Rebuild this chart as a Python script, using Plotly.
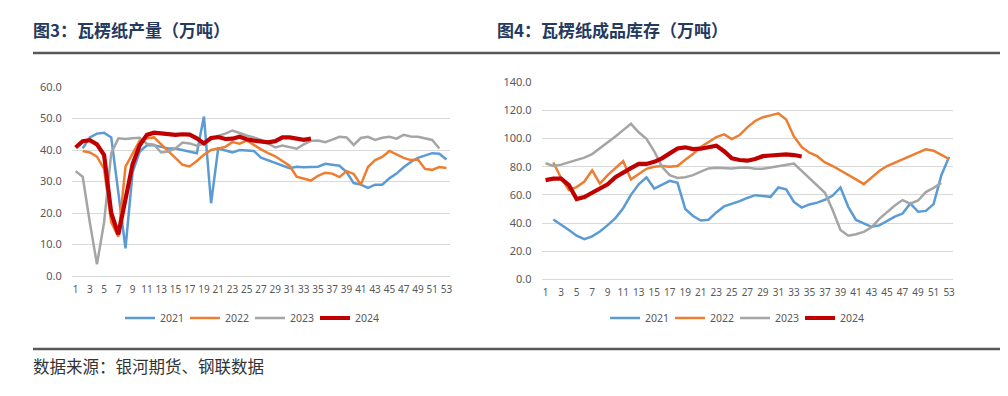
import plotly.graph_objects as go

weeks = list(range(1, 54))
years = ["2021", "2022", "2023", "2024"]
colors = {"2021": "#5B9BD5", "2022": "#ED7D31", "2023": "#A5A5A5", "2024": "#C00000"}
widths = {"2021": 2.5, "2022": 2.5, "2023": 2.5, "2024": 4.2}

# 图3 瓦楞纸产量（万吨）
prod_2021 = [None, 40.5, 44, 45.2, 45.5, 44, 26, 8.8, 33, 39.5, 41.5, 41.5, 41, 40.5, 40.5, 40, 39.5, 39,
             50.6, 23.1, 40.5, 39.8, 39.2, 40, 39.8, 39.7, 37.6, 36.8, 35.8, 35, 34.2, 34.7, 34.5, 34.6, 34.7,
             35.6, 35.3, 35, 33, 29.5, 29, 28, 29, 29, 31, 32.5, 34.5, 36.2, 37.5, 38.3, 39, 38.8, 37]
prod_2022 = [None, 39.7, 39.2, 37.9, 34, 17, 12.5, 34.7, 39, 43, 43.7, 44, 41.8, 39.8, 37.5, 35.3, 34.8, 36.5,
             38.5, 40, 40.5, 41, 42.5, 42, 43, 41.5, 40.2, 39, 38, 36.5, 35, 31.5, 31, 30.3, 31.8, 32.8, 32.5,
             31.4, 33.3, 32.4, 29, 34.6, 36.8, 37.8, 39.7, 38.5, 37.5, 36.8, 37, 34, 33.7, 34.6, 34.3]
prod_2023 = [33.3, 31.5, 17, 3.7, 17, 39, 43.7, 43.5, 43.7, 43.9, 42, 41.7, 39.2, 39.5, 40.5, 42.4, 42.1, 41.4,
             42, 43.5, 44.5, 45.2, 46.2, 45.3, 44.6, 44, 43.2, 42.1, 40.8, 41.4, 41, 40.4, 41.8, 42.9, 43, 42.5,
             43.3, 44.2, 44, 41.6, 43.8, 44.2, 43.2, 43.9, 44.2, 43.6, 44.8, 44.3, 44.2, 43.8, 43.2, 40.5, None]
prod_2024 = [40.8, 42.8, 43.1, 41.8, 38.4, 20, 13.2, 25, 35.5, 41.5, 44.8, 45.5, 45.2, 44.9, 44.8, 45, 44.9,
             43.7, 42.1, 43.8, 44.1, 43.5, 43.6, 44.2, 43.4, 43, 42.6, 42.4, 42.8, 44, 44, 43.6, 43.2, 43.6]

# 图4 瓦楞纸成品库存（万吨）
inv_2021 = [None, 42.5, 39, 35, 31, 28.5, 30.5, 34, 38.5, 43.5, 50.5, 60, 67.5, 72.5, 64.5, 67.5, 70, 68.6, 50,
            45, 41.8, 42.3, 47.5, 51.8, 53.5, 55.5, 57.8, 59.8, 59.2, 58.6, 65.3, 64, 55, 51, 53.2, 54.5, 56.5,
            59.5, 65.3, 51.5, 42.2, 40, 37.3, 38.3, 41.5, 44.5, 46.7, 53.9, 48, 48.6, 53.4, 74, 87]
inv_2022 = [None, 83, 72, 63.5, 65.5, 69.5, 77.5, 68, 74, 79, 84, 71, 74.5, 78.5, 80, 80.5, 80, 80.5, 85, 89,
            94, 97.5, 101, 103, 99.7, 102.5, 108, 112.5, 115.2, 116.5, 118, 113.5, 101.5, 94, 90, 87.5, 83,
            80.5, 77.5, 74, 71, 67.6, 72.5, 77, 80.5, 83, 85.5, 87.5, 90, 92.4, 91.4, 88.5, 85.5]
inv_2023 = [82.5, 80.5, 81.5, 83, 85, 86.5, 89, 93, 97, 101.5, 106, 110.5, 104.5, 99.8, 91, 80, 74, 72, 72.5,
            74, 76.5, 78.8, 79.3, 79, 78.8, 79.3, 79.5, 78.5, 78.6, 79.5, 80.5, 81.2, 82.3, 77, 72, 66.5, 61.5,
            49, 35, 31, 32, 33.7, 37, 43, 48, 52.5, 56.3, 53.8, 56, 62, 65, 68.5, None]
inv_2024 = [70.5, 71.5, 71.5, 67, 57, 58.5, 61.5, 64.5, 67.5, 72.5, 76, 79, 82, 82, 83.5, 86, 89.5, 93, 93.8,
            92.5, 92.8, 94, 95, 91, 86, 84.8, 84.3, 85.5, 87.5, 88, 88.3, 88.8, 88.3, 87.3]

prod = {"2021": prod_2021, "2022": prod_2022, "2023": prod_2023, "2024": prod_2024}
inv = {"2021": inv_2021, "2022": inv_2022, "2023": inv_2023, "2024": inv_2024}
tick_weeks = list(range(1, 54, 2))

# page body has an 8px margin: the figure occupies viewport 8..1000 x 8..388
OFF = 8
W, H = 1008 - 2 * OFF, 396 - 2 * OFF
def px(xpx):
    return (xpx - OFF) / W
def py(ypx):
    return (H - (ypx - OFF)) / H

fig = go.Figure()
for y in years:
    d = prod[y]
    fig.add_trace(go.Scatter(x=weeks[:len(d)], y=d, mode="lines", name=y,
                             line=dict(color=colors[y], width=widths[y]),
                             xaxis="x", yaxis="y", legend="legend", connectgaps=False))
for y in years:
    d = inv[y]
    fig.add_trace(go.Scatter(x=weeks[:len(d)], y=d, mode="lines", name=y,
                             line=dict(color=colors[y], width=widths[y]),
                             xaxis="x2", yaxis="y2", legend="legend2", connectgaps=False))

tickfont = dict(family="Noto Sans, DejaVu Sans", size=10, color="#595959")
grid = "#D9D9D9"
xcommon = dict(range=[0.5, 53.5], tickmode="array", tickvals=tick_weeks, showgrid=False,
               zeroline=False, showline=True, linecolor=grid, linewidth=1, ticks="outside",
               ticklen=4, tickcolor="rgba(0,0,0,0)", tickfont=tickfont, fixedrange=True, automargin=False)
ycommon = dict(showgrid=True, gridcolor=grid, gridwidth=1, zeroline=False, showline=False,
               tickformat=".1f", ticks="outside", ticklen=7, tickcolor="rgba(0,0,0,0)",
               tickfont=dict(family="Noto Sans, DejaVu Sans", size=11, color="#595959"),
               fixedrange=True, automargin=False)

legfont = dict(family="Noto Sans, DejaVu Sans", size=10.5, color="#595959")
fig.update_layout(
    width=W, height=H, margin=dict(l=0, r=0, t=0, b=0, autoexpand=False),
    paper_bgcolor="white", plot_bgcolor="white",
    xaxis=dict(domain=[px(72), px(450)], anchor="y", **xcommon),
    yaxis=dict(domain=[py(276), py(87)], anchor="x", range=[0, 60], dtick=10, **ycommon),
    xaxis2=dict(domain=[px(541.7), px(953)], anchor="y2", **xcommon),
    yaxis2=dict(domain=[py(279.3), py(82.3)], anchor="x2", range=[0, 140], dtick=20, **ycommon),
    legend=dict(orientation="h", x=px(250), xanchor="center", y=py(318), yanchor="middle",
                font=legfont, itemwidth=30, entrywidth=20, entrywidthmode="pixels",
                tracegroupgap=0, bgcolor="rgba(0,0,0,0)"),
    legend2=dict(orientation="h", x=px(735), xanchor="center", y=py(318), yanchor="middle",
                 font=legfont, itemwidth=30, entrywidth=20, entrywidthmode="pixels",
                 tracegroupgap=0, bgcolor="rgba(0,0,0,0)"),
    showlegend=True,
)

title_font = dict(family="Noto Sans CJK SC", size=17, color="#243A5E")
fig.add_annotation(text="<b>图3：瓦楞纸产量（万吨）</b>", x=px(31), y=py(30), xref="paper", yref="paper",
                   xanchor="left", yanchor="middle", showarrow=False, font=title_font)
fig.add_annotation(text="<b>图4：瓦楞纸成品库存（万吨）</b>", x=px(495), y=py(30), xref="paper", yref="paper",
                   xanchor="left", yanchor="middle", showarrow=False, font=title_font)
fig.add_annotation(text="数据来源：银河期货、钢联数据", x=px(31), y=py(366), xref="paper", yref="paper",
                   xanchor="left", yanchor="middle", showarrow=False,
                   font=dict(family="Noto Sans CJK SC", size=16.5, color="#333333"))

for yline in (53, 349):
    fig.add_shape(type="line", xref="paper", yref="paper", x0=px(33), x1=px(1000),
                  y0=py(yline), y1=py(yline), line=dict(color="#595959", width=2.5))

fig.write_html("out.html")
